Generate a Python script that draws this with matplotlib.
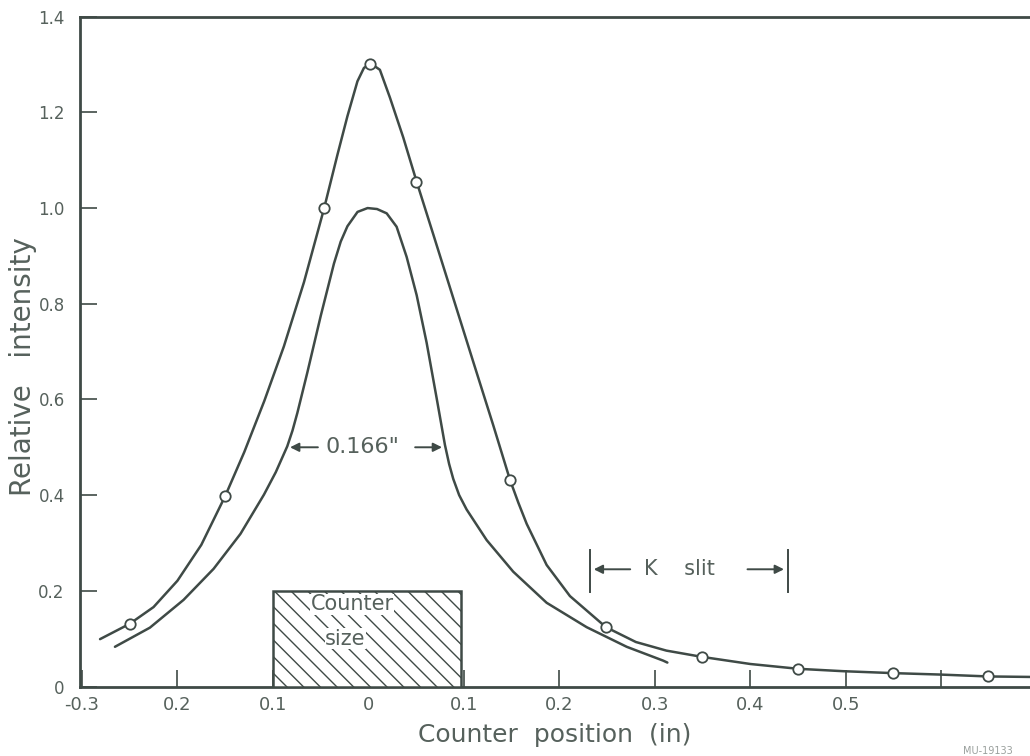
import matplotlib
matplotlib.use('Agg')
import matplotlib.pyplot as plt
from matplotlib.patches import Rectangle

# measured points (open circles)
pts_x = [-0.25, -0.15, -0.047, 0.002, 0.05, 0.148, 0.249, 0.349, 0.45, 0.549, 0.649]
pts_y = [0.131, 0.398, 1.00, 1.302, 1.055, 0.432, 0.124, 0.062, 0.037, 0.028, 0.021]

# upper curve
up_x = [-0.281, -0.250, -0.225, -0.200, -0.175, -0.150, -0.130, -0.109, -0.0885,
        -0.0675, -0.0466, -0.0325, -0.0220, -0.0115, -0.0047, 0.0026,
        0.0120, 0.0225, 0.0364, 0.0505, 0.0679, 0.0888, 0.1097, 0.1307, 0.1482,
        0.1570, 0.1657, 0.1866, 0.2110, 0.2487, 0.280, 0.312, 0.349, 0.400, 0.450,
        0.497, 0.549, 0.598, 0.649, 0.693]
up_y = [0.099, 0.131, 0.166, 0.221, 0.296, 0.398, 0.490, 0.597, 0.711,
        0.845, 0.998, 1.111, 1.192, 1.265, 1.293, 1.302,
        1.289, 1.231, 1.148, 1.055, 0.945, 0.812, 0.679, 0.546, 0.432,
        0.384, 0.340, 0.254, 0.189, 0.124, 0.093, 0.075, 0.062, 0.047, 0.037,
        0.032, 0.028, 0.025, 0.021, 0.020]

# lower curve
lo_x = [-0.2654, -0.2288, -0.1936, -0.1621, -0.1340, -0.1094, -0.0970, -0.0850,
        -0.0795, -0.0744, -0.0640, -0.0499, -0.0361, -0.0290, -0.0220, -0.0114,
        -0.0009, 0.0090, 0.0191, 0.0295, 0.0400, 0.0505, 0.0609, 0.0714, 0.0801,
        0.0845, 0.0888, 0.0950, 0.1028, 0.1238, 0.1516, 0.1866, 0.2285, 0.2704,
        0.3087, 0.3130]
lo_y = [0.083, 0.123, 0.181, 0.246, 0.319, 0.401, 0.448, 0.502,
        0.535, 0.572, 0.656, 0.775, 0.884, 0.930, 0.962, 0.992,
        1.000, 0.998, 0.989, 0.961, 0.898, 0.818, 0.719, 0.603, 0.505,
        0.465, 0.434, 0.400, 0.370, 0.306, 0.240, 0.175, 0.124, 0.083,
        0.054, 0.050]

xticks = [-0.3, -0.2, -0.1, 0.0, 0.1, 0.2, 0.3, 0.4, 0.5, 0.6]
xlabels = ['-0.3', '0.2', '0.1', '0', '0.1', '0.2', '0.3', '0.4', '0.5', '']
yticks = [0, 0.2, 0.4, 0.6, 0.8, 1.0, 1.2, 1.4]
ylabels = ['0', '0.2', '0.4', '0.6', '0.8', '1.0', '1.2', '1.4']

ink = '#3f4a46'
txt = '#56615c'

plt.rcParams['font.family'] = ['DejaVu Sans']
plt.rcParams['hatch.color'] = ink
plt.rcParams['hatch.linewidth'] = 1.0
fig = plt.figure(figsize=(10.30, 7.56), dpi=100)
ax = fig.add_axes([80/1030, 69.5/756, 950/1030, 669.8/756])

ax.plot(up_x, up_y, color=ink, lw=1.8, solid_capstyle='round', solid_joinstyle='round')
ax.plot(lo_x, lo_y, color=ink, lw=1.8, solid_capstyle='round', solid_joinstyle='round')
ax.plot(pts_x, pts_y, 'o', ms=7.5, mfc='white', mec=ink, mew=1.3, zorder=5)

# counter size box
ax.add_patch(Rectangle((-0.1, 0), 0.197, 0.2, facecolor='white', edgecolor=ink,
                       lw=1.8, hatch='\\\\', zorder=3))
ax.text(-0.017, 0.172, 'Counter', ha='center', va='center', fontsize=15,
        color=txt, zorder=4,
        bbox=dict(facecolor='white', edgecolor='none', pad=0.3))
ax.text(-0.024, 0.10, 'size', ha='center', va='center', fontsize=15,
        color=txt, zorder=4,
        bbox=dict(facecolor='white', edgecolor='none', pad=0.3))

# 0.166" width annotation
arr = dict(arrowstyle='-|>', color=ink, lw=1.4, mutation_scale=13)
ax.text(-0.006, 0.50, '0.166"', ha='center', va='center', fontsize=16, color=txt)
ax.annotate('', xy=(-0.085, 0.50), xytext=(-0.050, 0.50), arrowprops=arr)
ax.annotate('', xy=(0.080, 0.50), xytext=(0.046, 0.50), arrowprops=arr)

# K slit annotation
ax.plot([0.232, 0.232], [0.197, 0.285], color=ink, lw=1.4)
ax.plot([0.439, 0.439], [0.197, 0.285], color=ink, lw=1.4)
ax.text(0.326, 0.245, 'K    slit', ha='center', va='center', fontsize=15, color=txt)
ax.annotate('', xy=(0.233, 0.245), xytext=(0.277, 0.245), arrowprops=arr)
ax.annotate('', xy=(0.438, 0.245), xytext=(0.394, 0.245), arrowprops=arr)

ax.set_xlim(-0.302, 0.6927)
ax.set_ylim(0, 1.4)
ax.set_xticks(xticks)
ax.set_xticklabels(xlabels)
ax.set_yticks(yticks)
ax.set_yticklabels(ylabels)
ax.tick_params(direction='in', length=12, width=1.2, color=ink,
               labelsize=13, labelcolor=txt, pad=7)
ax.tick_params(axis='y', labelsize=12, pad=11)
for s in ['left', 'bottom', 'top']:
    ax.spines[s].set_color(ink)
    ax.spines[s].set_linewidth(2.0)
ax.spines['right'].set_visible(False)

ax.set_xlabel('Counter  position  (in)', fontsize=18, color=txt, labelpad=6)
ax.set_ylabel('Relative   intensity', fontsize=20, color=txt)
ax.yaxis.set_label_coords(-0.045, 0.478)

fig.text(0.935, 0.003, 'MU-19133', fontsize=7, color='#9aa09d')

fig.savefig('out.png', dpi=100, facecolor='white')
